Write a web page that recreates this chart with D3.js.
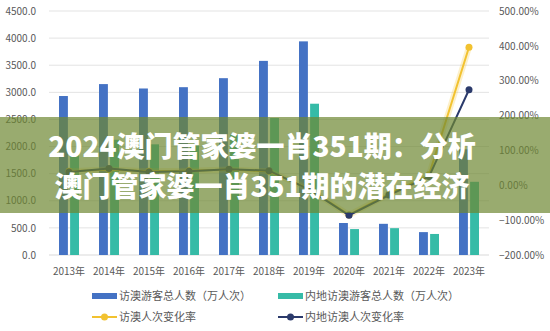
<!DOCTYPE html>
<html><head><meta charset="utf-8">
<script src="https://cdn.jsdelivr.net/npm/d3@7/dist/d3.min.js"></script>
<style>body{margin:0;background:#fff}svg{display:block}text{font-family:"Noto Sans CJK SC","Noto Sans",sans-serif}</style>
</head><body><svg id="c" width="550" height="331"></svg>
<script>
const years = ["2013年","2014年","2015年","2016年","2017年","2018年","2019年","2020年","2021年","2022年","2023年"];
const totalVisitors = [2932, 3152, 3071, 3095, 3261, 3580, 3940, 590, 575, 422, 1950];
const mainlandVisitors = [1863, 2125, 2041, 2045, 2220, 2526, 2790, 478, 495, 388, 1350];
const totalRate = [40, 45, 40, 42, 45, 40, -10, -85, -25, 30, 396];
const mainlandRate = [38, 48, 38, 40, 46, 42, -12, -86, -28, 25, 274];
const leftTicks = [0,500,1000,1500,2000,2500,3000,3500,4000,4500];
const rightTicks = [-200,-100,0,100,200,300,400,500];
const seriesNames = ["访澳游客总人数（万人次）","内地访澳游客总人数（万人次）","访澳人次变化率","内地访澳人次变化率"];
const bannerLines = ["2024澳门管家婆一肖351期：分析","澳门管家婆一肖351期的潜在经济"];

const colBlue = "#4472C4", colTeal = "#36BBA7", colGold = "#F2C230", colNavy = "#2B3A6B", grey = "#595959";
const svg = d3.select("#c");
const x = d3.scaleBand().domain(years).range([49,489]).paddingInner(0.5).paddingOuter(0.25);
const xs = d3.scaleBand().domain(["t","m"]).range([0,x.bandwidth()]).paddingInner(0.2);
const y = d3.scaleLinear().domain([0,4500]).range([255,11]);
const yr = d3.scaleLinear().domain([-200,500]).range([255,11]);

// gridlines
svg.append("g").selectAll("line").data(leftTicks.slice(1)).join("line")
  .attr("x1",49).attr("x2",489).attr("y1",d=>y(d)).attr("y2",d=>y(d))
  .attr("stroke","#e3e3e3").attr("stroke-width",1);
svg.append("line").attr("x1",49).attr("x2",489).attr("y1",y(0)).attr("y2",y(0)).attr("stroke","#d9d9d9");

// axes
const gl = svg.append("g").attr("transform","translate(49,0)")
  .call(d3.axisLeft(y).tickValues(leftTicks).tickSize(0).tickPadding(13).tickFormat(d3.format(".1f")));
const gr = svg.append("g").attr("transform","translate(489,0)")
  .call(d3.axisRight(yr).tickValues(rightTicks).tickSize(0).tickPadding(10).tickFormat(d=>d3.format(".2f")(d)+"%"));
const gb = svg.append("g").attr("transform","translate(0,255)")
  .call(d3.axisBottom(x).tickSize(0).tickPadding(13));
[gl,gr,gb].forEach(g=>{g.select(".domain").remove();g.selectAll("text").attr("fill",grey).style("font-size","10px").style("font-family",'"Noto Sans CJK SC",sans-serif');});
gb.selectAll("text").attr("dy","0.35em").attr("y",16);

// bars
svg.append("g").selectAll("rect").data(totalVisitors).join("rect")
  .attr("x",(d,i)=>x(years[i])+xs("t")).attr("width",xs.bandwidth())
  .attr("y",d=>y(d)).attr("height",d=>y(0)-y(d)).attr("fill",colBlue);
svg.append("g").selectAll("rect").data(mainlandVisitors).join("rect")
  .attr("x",(d,i)=>x(years[i])+xs("m")).attr("width",xs.bandwidth())
  .attr("y",d=>y(d)).attr("height",d=>y(0)-y(d)).attr("fill",colTeal);

// lines
const cx = i=>x(years[i])+x.bandwidth()/2;
function drawLine(vals,col,glow){
  const line = d3.line().x((d,i)=>cx(i)).y(d=>yr(d));
  if(glow){svg.append("path").attr("d",line(vals)).attr("fill","none").attr("stroke",col).attr("stroke-opacity",0.25).attr("stroke-width",6);}
  svg.append("path").attr("d",line(vals)).attr("fill","none").attr("stroke",col).attr("stroke-width",2);
  svg.append("g").selectAll("circle").data(vals).join("circle")
    .attr("cx",(d,i)=>cx(i)).attr("cy",d=>yr(d)).attr("r",3.5).attr("fill",col);
}
drawLine(totalRate,colGold,true);
drawLine(mainlandRate,colNavy,false);

// legend
const lg = svg.append("g");
const items = [
  {x:92,y:296,type:"rect",col:colBlue,t:seriesNames[0]},
  {x:278,y:296,type:"rect",col:colTeal,t:seriesNames[1]},
  {x:92,y:317,type:"line",col:colGold,t:seriesNames[2]},
  {x:278,y:317,type:"line",col:colNavy,t:seriesNames[3]}];
items.forEach(it=>{
  if(it.type==="rect") lg.append("rect").attr("x",it.x).attr("y",it.y-3).attr("width",25).attr("height",6).attr("fill",it.col);
  else { lg.append("line").attr("x1",it.x).attr("x2",it.x+25).attr("y1",it.y).attr("y2",it.y).attr("stroke",it.col).attr("stroke-width",2);
         lg.append("circle").attr("cx",it.x+12.5).attr("cy",it.y).attr("r",3.5).attr("fill",it.col);}
  lg.append("text").attr("x",it.x+27).attr("y",it.y).attr("dy","0.35em").attr("fill",grey).style("font-size","11px").text(it.t);
});

// banner overlay
svg.append("rect").attr("x",0).attr("y",117).attr("width",550).attr("height",96).attr("fill","rgb(110,135,50)").attr("fill-opacity",0.7);
svg.append("g").selectAll("text").data(bannerLines).join("text")
  .attr("x",262).attr("y",(d,i)=>157+i*40).attr("text-anchor","middle")
  .attr("fill","#fff").style("font-size","28px").style("font-weight","900").text(d=>d);
</script></body></html>
